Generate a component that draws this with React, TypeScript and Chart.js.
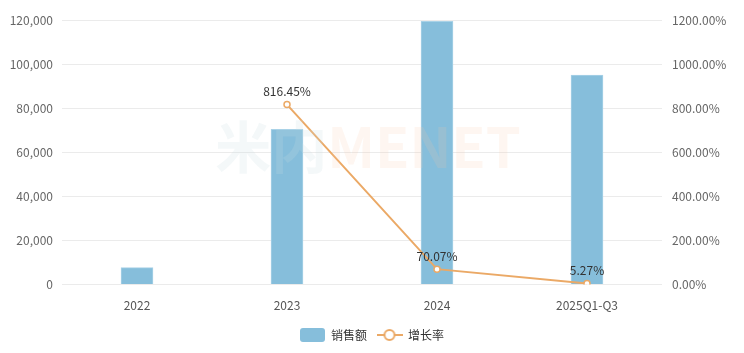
import React, { useEffect, useRef } from 'react';
import { Chart, registerables } from 'chart.js';

Chart.register(...registerables);

const categories = ['2022', '2023', '2024', '2025Q1-Q3'];
const salesValues = [7700, 70400, 119400, 95000];
const growthValues: (number | null)[] = [null, 816.45, 70.07, 5.27];
const growthLabels = ['', '816.45%', '70.07%', '5.27%'];
const leftTicksMax = 120000;
const rightTicksMax = 1200;

const BAR_COLOR = '#86BEDB';
const LINE_COLOR = '#EBA966';
const FONT = '"Noto Sans CJK SC", "Noto Sans", sans-serif';

function makeBarIcon() {
  const c = document.createElement('canvas');
  c.width = 25;
  c.height = 14;
  const ctx = c.getContext('2d')!;
  ctx.fillStyle = BAR_COLOR;
  ctx.beginPath();
  (ctx as any).roundRect(0, 0, 25, 14, 3);
  ctx.fill();
  return c;
}

function makeLineIcon() {
  const c = document.createElement('canvas');
  c.width = 26;
  c.height = 14;
  const ctx = c.getContext('2d')!;
  ctx.strokeStyle = LINE_COLOR;
  ctx.lineWidth = 2;
  ctx.beginPath();
  ctx.moveTo(0, 7);
  ctx.lineTo(26, 7);
  ctx.stroke();
  ctx.beginPath();
  ctx.arc(13, 7, 5, 0, Math.PI * 2);
  ctx.fillStyle = '#fff';
  ctx.fill();
  ctx.stroke();
  return c;
}

const overlayPlugin = {
  id: 'overlay',
  afterDatasetsDraw(chart: any) {
    const ctx = chart.ctx as CanvasRenderingContext2D;
    // watermark
    ctx.save();
    ctx.font = `bold 56px ${FONT}`;
    ctx.textBaseline = 'alphabetic';
    const a = '米内';
    const b = 'MENET';
    const wa = ctx.measureText(a).width;
    const wb = ctx.measureText(b).width;
    const cx = 368;
    const startX = cx - (wa + wb) / 2;
    ctx.fillStyle = 'rgba(200, 218, 226, 0.2)';
    ctx.fillText(a, startX, 168);
    ctx.fillStyle = 'rgba(250, 200, 165, 0.16)';
    ctx.fillText(b, startX + wa, 168);
    ctx.restore();

    // data labels
    const meta = chart.getDatasetMeta(1);
    ctx.save();
    ctx.font = `12px ${FONT}`;
    ctx.fillStyle = '#333';
    ctx.textAlign = 'center';
    ctx.textBaseline = 'bottom';
    meta.data.forEach((pt: any, i: number) => {
      if (growthValues[i] == null) return;
      ctx.fillText(growthLabels[i], pt.x, pt.y - 7);
    });
    ctx.restore();
  },
};

export default function App() {
  const ref = useRef<HTMLCanvasElement>(null);
  useEffect(() => {
    const barIcon = makeBarIcon();
    const lineIcon = makeLineIcon();
    const chart = new Chart(ref.current!, {
      type: 'bar',
      data: {
        labels: categories,
        datasets: [
          {
            type: 'bar',
            label: '销售额',
            data: salesValues,
            backgroundColor: BAR_COLOR,
            borderColor: '#A9D2E7',
            borderWidth: 1,
            barThickness: 32,
            yAxisID: 'y',
            order: 2,
          },
          {
            type: 'line',
            label: '增长率',
            data: growthValues,
            borderColor: LINE_COLOR,
            backgroundColor: '#fff',
            borderWidth: 2,
            pointRadius: 3,
            pointBorderWidth: 1.5,
            pointBackgroundColor: '#fff',
            pointBorderColor: LINE_COLOR,
            yAxisID: 'y1',
            order: 1,
          } as any,
        ],
      },
      options: {
        animation: false,
        responsive: true,
        maintainAspectRatio: false,
        layout: { padding: { top: 20, bottom: 2, left: 0, right: 0 } },
        plugins: {
          tooltip: { enabled: false },
          legend: {
            position: 'bottom',
            labels: {
              usePointStyle: true,
              pointStyleWidth: 25,
              padding: 10,
              color: '#333',
              font: { family: FONT, size: 12 },
              generateLabels: () => [
                { text: '销售额', pointStyle: barIcon as any, fillStyle: BAR_COLOR, strokeStyle: BAR_COLOR, lineWidth: 0, datasetIndex: 0, hidden: false, fontColor: '#333' },
                { text: '增长率', pointStyle: lineIcon as any, fillStyle: '#fff', strokeStyle: LINE_COLOR, lineWidth: 0, datasetIndex: 1, hidden: false, fontColor: '#333' },
              ],
            },
          },
        },
        scales: {
          x: {
            grid: { display: false },
            border: { display: false },
            ticks: { color: '#555', font: { family: FONT, size: 12 }, padding: 6 },
          },
          y: {
            position: 'left',
            min: 0,
            max: leftTicksMax,
            grid: { color: '#EBEBEB', drawTicks: false },
            border: { display: false },
            ticks: {
              stepSize: 20000,
              padding: 9,
              color: '#666',
              font: { family: FONT, size: 12 },
              callback: (v: any) => Number(v).toLocaleString('en-US'),
            },
            afterFit: (s: any) => { s.width = 62; },
          },
          y1: {
            position: 'right',
            min: 0,
            max: rightTicksMax,
            grid: { drawOnChartArea: false, drawTicks: false },
            border: { display: false },
            ticks: {
              stepSize: 200,
              padding: 10,
              color: '#666',
              font: { family: FONT, size: 12 },
              callback: (v: any) => Number(v).toFixed(2) + '%',
            },
            afterFit: (s: any) => { s.width = 82; },
          },
        },
      },
      plugins: [overlayPlugin],
    });
    return () => chart.destroy();
  }, []);
  return (
    <div style={{ position: 'fixed', left: 0, top: 0, width: 744, height: 353, background: '#fff' }}>
      <canvas ref={ref} />
    </div>
  );
}
